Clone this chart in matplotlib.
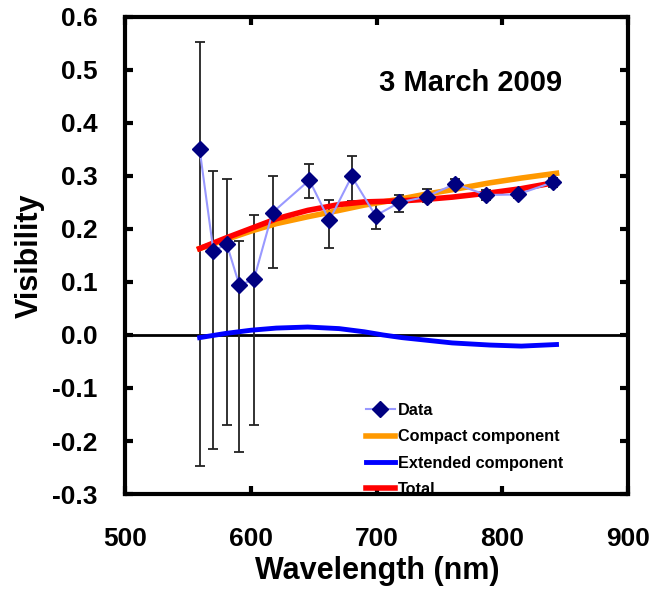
import matplotlib
matplotlib.use("Agg")
import matplotlib.pyplot as plt

plt.rcParams["font.family"] = ["Liberation Sans", "DejaVu Sans"]
plt.rcParams["font.weight"] = "bold"

# measured visibilities with (asymmetric) error bars
wl = [559, 570, 580.5, 590.6, 602.2, 617, 646.3, 662.2, 680, 699, 718, 739.7, 762.5, 787, 812, 840]
vis = [0.350, 0.158, 0.172, 0.094, 0.105, 0.231, 0.292, 0.216, 0.299, 0.225, 0.250, 0.261, 0.285, 0.264, 0.265, 0.288]
err_hi = [0.553, 0.310, 0.295, 0.177, 0.226, 0.300, 0.323, 0.255, 0.338, 0.252, 0.264, 0.275, 0.294, 0.274, 0.271, 0.296]
err_lo = [-0.247, -0.215, -0.170, -0.221, -0.170, 0.127, 0.258, 0.164, 0.252, 0.200, 0.232, 0.250, 0.275, 0.254, 0.259, 0.280]

# model curves
wl_model = [559, 580, 600, 620, 645, 670, 690, 705, 720, 740, 760, 790, 815, 843]
compact = [0.163, 0.180, 0.196, 0.210, 0.223, 0.235, 0.245, 0.251, 0.257, 0.266, 0.274, 0.287, 0.296, 0.305]
extended = [-0.005, 0.003, 0.009, 0.013, 0.015, 0.012, 0.006, 0.0, -0.005, -0.010, -0.015, -0.019, -0.021, -0.018]
total = [0.163, 0.183, 0.201, 0.219, 0.235, 0.246, 0.251, 0.252, 0.253, 0.256, 0.260, 0.268, 0.276, 0.288]

fig = plt.figure(figsize=(6.64, 5.92), dpi=100)
ax = fig.add_axes([0.189, 0.1655, 0.757, 0.806])

ax.axhline(0, color="black", lw=2, zorder=1)

yerr = [[v - l for v, l in zip(vis, err_lo)], [h - v for v, h in zip(vis, err_hi)]]
ax.errorbar(wl, vis, yerr=yerr, fmt="none", ecolor="#222222", elinewidth=1.3, capsize=3.5, capthick=1.3, zorder=2)

ax.plot(wl_model, compact, color="#FF9900", lw=4, label="Compact component", zorder=3)
ax.plot(wl_model, extended, color="#0000FF", lw=3.5, label="Extended component", zorder=3)
ax.plot(wl_model, total, color="#FF0000", lw=4, label="Total", zorder=4)
ax.plot(wl, vis, color="#9999FF", lw=1.5, marker="D", markersize=8, mfc="#000080", mec="#000080", label="Data", zorder=5)

ax.set_xlim(500, 900)
ax.set_ylim(-0.3, 0.6)
ax.set_xticks([500, 600, 700, 800, 900])
ax.set_yticks([-0.3, -0.2, -0.1, 0.0, 0.1, 0.2, 0.3, 0.4, 0.5, 0.6])
ax.set_yticklabels(["-0.3", "-0.2", "-0.1", "0.0", "0.1", "0.2", "0.3", "0.4", "0.5", "0.6"])
ax.tick_params(direction="in", length=6, width=3, labelsize=19, top=True, right=True)
ax.tick_params(axis="y", pad=20)
ax.tick_params(axis="x", pad=24)
for s in ax.spines.values():
    s.set_linewidth(3)

ax.set_xlabel("Wavelength (nm)", fontsize=22, fontweight="bold", labelpad=3)
ax.set_ylabel("Visibility", fontsize=22, fontweight="bold", labelpad=5)

ax.text(0.686, 0.862, "3 March 2009", transform=ax.transAxes, fontsize=21, fontweight="bold", ha="center", va="center")

h, l = ax.get_legend_handles_labels()
order = [3, 0, 1, 2]
ax.legend([h[i] for i in order], [l[i] for i in order], loc="lower left", bbox_to_anchor=(0.449, -0.037),
          frameon=False, fontsize=11.7, handlelength=1.8, handletextpad=0.2, labelspacing=0.7)

fig.savefig("out.png", dpi=100)
